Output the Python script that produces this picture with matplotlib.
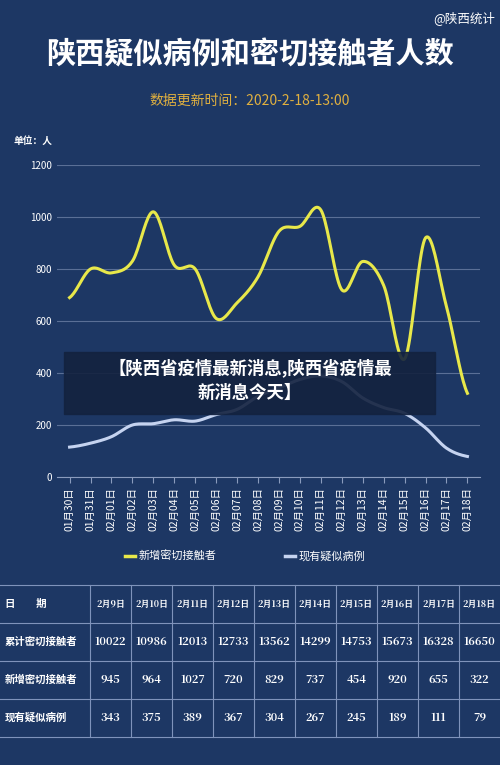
import numpy as np
import matplotlib
matplotlib.use("Agg")
import matplotlib.pyplot as plt

plt.rcParams['font.family'] = ['Noto Sans CJK SC', 'DejaVu Sans']

dates = ["01月30日","01月31日","02月01日","02月02日","02月03日","02月04日","02月05日","02月06日","02月07日","02月08日",
         "02月09日","02月10日","02月11日","02月12日","02月13日","02月14日","02月15日","02月16日","02月17日","02月18日"]
new_contacts = [690,800,785,830,1020,815,800,610,670,770,945,964,1027,720,829,737,454,920,655,322]
suspected = [115,130,155,200,205,220,215,240,260,310,343,375,389,367,304,267,245,189,111,79]

tbl_dates = ["2月9日","2月10日","2月11日","2月12日","2月13日","2月14日","2月15日","2月16日","2月17日","2月18日"]
tbl_cum = [10022,10986,12013,12733,13562,14299,14753,15673,16328,16650]
tbl_new = [945,964,1027,720,829,737,454,920,655,322]
tbl_susp = [343,375,389,367,304,267,245,189,111,79]
row_labels = ["日　　期","累计密切接触者","新增密切接触者","现有疑似病例"]

BG = "#1d3764"
W, H = 500, 765
fig = plt.figure(figsize=(5, 7.65), dpi=100, facecolor=BG)

def smooth(y, n=20):
    y = np.asarray(y, float)
    p = np.concatenate([[y[0]], y, [y[-1]]])
    xs, ys = [], []
    for i in range(len(y) - 1):
        p0, p1, p2, p3 = p[i], p[i+1], p[i+2], p[i+3]
        t = np.linspace(0, 1, n, endpoint=False)
        ys.append(0.5*((2*p1)+(-p0+p2)*t+(2*p0-5*p1+4*p2-p3)*t**2+(-p0+3*p1-3*p2+p3)*t**3))
        xs.append(i + t)
    xs.append([len(y)-1]); ys.append([y[-1]])
    return np.concatenate(xs), np.concatenate(ys)

fig.text(0.5, 1-55/H, "陕西疑似病例和密切接触者人数", ha="center", va="center",
         color="white", fontsize=21, fontweight="bold")
fig.text(0.5, 1-101/H, "数据更新时间：2020-2-18-13:00", ha="center", va="center",
         color="#e0b040", fontsize=10)
fig.text(0.99, 1-18/H, "@陕西统计", ha="right", va="center", color="white", fontsize=9)
fig.text(13/W, 1-141/H, "单位：人", ha="left", va="center", color="white", fontsize=7, fontweight="bold")

ax = fig.add_axes([57/W, 1-477/H, (480-57)/W, (477-165)/H], facecolor=BG)
x = np.arange(len(dates))
sx, sy = smooth(new_contacts)
ax.plot(sx, sy, color="#e8e84a", lw=2.2)
sx2, sy2 = smooth(suspected)
ax.plot(sx2, sy2, color="#c5d3f0", lw=2.2)
ax.set_ylim(0, 1200)
ax.set_xlim(-0.6, len(dates)-0.4)
ax.set_yticks(range(0, 1201, 200))
ax.grid(axis="y", color="#5a6f96", lw=0.8)
ax.set_axisbelow(True)
ax.set_xticks(x)
ax.set_xticklabels(dates, rotation=90, fontsize=7.5, color="white")
ax.tick_params(axis="y", colors="white", labelsize=7, length=0)
ax.tick_params(axis="x", colors="#8a9bbd", length=4)
for lab in ax.get_xticklabels(): lab.set_color("white")
for s in ["top", "right", "left"]: ax.spines[s].set_visible(False)
ax.spines["bottom"].set_color("#8a9bbd")

ly = 1-556/H
fig.lines.append(plt.Line2D([125/W, 135/W], [ly, ly], color="#e8e84a", lw=2.5, transform=fig.transFigure))
fig.text(139/W, ly, "新增密切接触者", color="white", fontsize=8, va="center")
fig.lines.append(plt.Line2D([285/W, 295/W], [ly, ly], color="#c5d3f0", lw=2.5, transform=fig.transFigure))
fig.text(299/W, ly, "现有疑似病例", color="white", fontsize=8, va="center")

# table
top, rh = 585, 38
col0 = 90
cw = (W - col0) / 10
lc = "#7f93bb"
for r in range(5):
    yy = 1 - (top + r*rh)/H
    fig.lines.append(plt.Line2D([0, 1], [yy, yy], color=lc, lw=0.8, transform=fig.transFigure))
for c in range(10):
    xx = (col0 + c*cw)/W
    fig.lines.append(plt.Line2D([xx, xx], [1-top/H, 1-(top+4*rh)/H], color=lc, lw=0.8, transform=fig.transFigure))
rows = [tbl_dates, tbl_cum, tbl_new, tbl_susp]
for r, vals in enumerate(rows):
    yc = 1 - (top + r*rh + rh/2)/H
    fig.text(5/W, yc, row_labels[r], color="white", fontsize=7.5, fontweight="bold", va="center")
    for c, v in enumerate(vals):
        fig.text((col0 + c*cw + cw/2)/W, yc, str(v), color="white", ha="center", va="center",
                 fontsize=6.5 if r == 0 else 8, fontweight="bold", family=['Noto Serif CJK SC', 'Noto Sans CJK SC', 'DejaVu Serif'])

# overlay banner
fig.patches.append(plt.Rectangle((64/W, 1-414/H), (435-64)/W, (414-352)/H, color="#13223f",
                                 alpha=0.9, transform=fig.transFigure))
fig.text(0.5, 1-368/H, "【陕西省疫情最新消息,陕西省疫情最", ha="center", va="center", color="white",
         fontsize=12.5, fontweight="bold")
fig.text(0.5, 1-393/H, "新消息今天】", ha="center", va="center", color="white",
         fontsize=12.5, fontweight="bold")

fig.savefig("out.png", dpi=100, facecolor=BG)
